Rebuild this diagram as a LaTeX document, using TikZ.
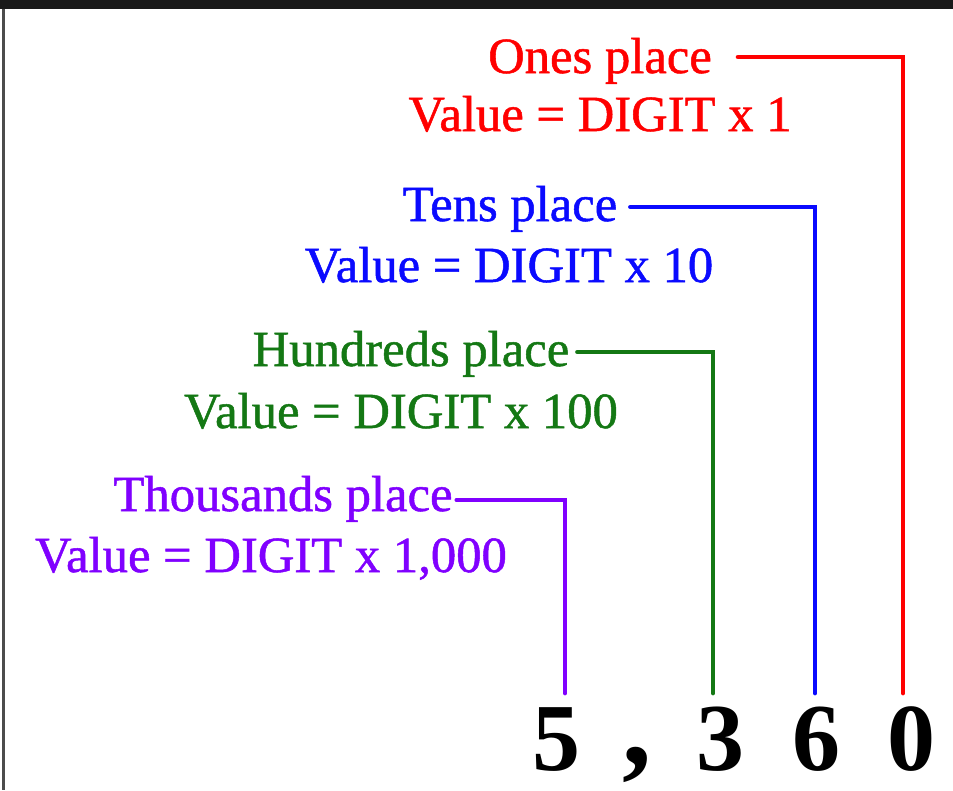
\documentclass[tikz,border=0pt]{standalone}
\usepackage{fontspec}
\setmainfont{Liberation Serif}
\newfontfamily\lblfont[FakeBold=1]{Liberation Serif}
\definecolor{onesred}{RGB}{255,0,0}
\definecolor{tensblue}{RGB}{10,10,255}
\definecolor{hundgreen}{RGB}{20,120,20}
\definecolor{thoupurple}{RGB}{128,0,255}
\begin{document}
\begin{tikzpicture}[x=0.75pt,y=-0.75pt,
  lbl/.style={inner sep=0pt,anchor=base,font=\lblfont\fontsize{38}{40}\selectfont},
  dig/.style={inner sep=0pt,anchor=base,font=\fontsize{72}{80}\selectfont\bfseries},
  conn/.style={line width=3.6pt,line cap=round,line join=miter}]
\useasboundingbox (0,0) rectangle (953,790);
\fill[black!90] (0,0) rectangle (953,9);
\fill[black!70] (2,9) rectangle (5,790);
% labels
\node[lbl,text=onesred] (ones) at (600,73) {Ones place};
\node[lbl,text=onesred] (v1) at (600,131) {Value = DIGIT x 1};
\node[lbl,text=tensblue] (tens) at (510,221) {Tens place};
\node[lbl,text=tensblue] (v10) at (509,282) {Value = DIGIT x 10};
\node[lbl,text=hundgreen] (hund) at (411,366) {Hundreds place};
\node[lbl,text=hundgreen] (v100) at (401,428) {Value = DIGIT x 100};
\node[lbl,text=thoupurple] (thou) at (283,511) {Thousands place};
\node[lbl,text=thoupurple] (v1000) at (271,572) {Value = DIGIT x 1,000};
% digits
\node[dig] (d5) at (556,770) {5};
\node[dig,font=\fontsize{88}{90}\selectfont\bfseries] (comma) at (637,764) {,};
\node[dig] (d3) at (720,770) {3};
\node[dig] (d6) at (816,770) {6};
\node[dig] (d0) at (911,770) {0};
% line ends
\coordinate (e0) at (903,693);
\coordinate (e6) at (815,693);
\coordinate (e3) at (713,693);
\coordinate (e5) at (565,693);
% connectors
\draw[conn,onesred] ([shift={(26,-16)}]ones.base east) -| (e0);
\draw[conn,tensblue] ([shift={(13,-14)}]tens.base east) -| (e6);
\draw[conn,hundgreen] ([shift={(8,-14)}]hund.base east) -| (e3);
\draw[conn,thoupurple] ([shift={(4,-11)}]thou.base east) -| (e5);
\end{tikzpicture}
\end{document}
